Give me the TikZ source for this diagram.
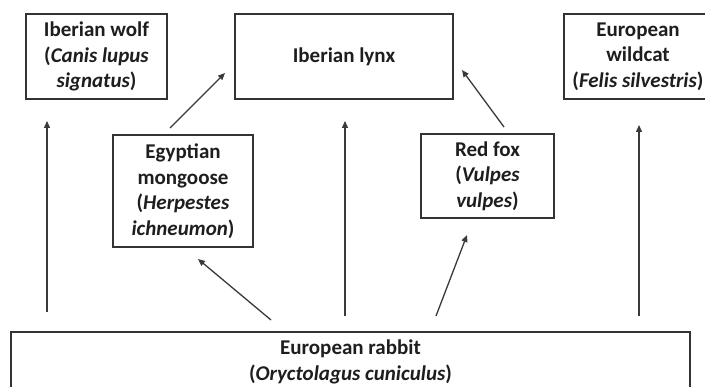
\documentclass[tikz,border=0pt]{standalone}
\usepackage{fontspec}
\setmainfont{Carlito}
\usetikzlibrary{arrows.meta}
\definecolor{boxgray}{HTML}{333333}
\definecolor{textgray}{HTML}{1E1E1E}
\definecolor{arrgray}{HTML}{3A3A3A}
\begin{document}
\begin{tikzpicture}[x=1pt,y=-1pt,
  box/.style={draw=boxgray,line width=1.4pt,inner sep=0pt,align=center,
    font=\bfseries\fontsize{21}{25.5}\selectfont,text=textgray},
  arr/.style={draw=arrgray,line width=1.3pt,-{Triangle[length=7pt,width=6pt]}}]
\useasboundingbox (0,0) rectangle (705,387);
\fill[white] (0,0) rectangle (705,387);
\node[box,minimum width=141pt,minimum height=85pt] (wolf) at (96.5,56.5)
  {Iberian wolf\\(\textit{Canis lupus}\\\textit{signatus})};
\node[box,minimum width=218pt,minimum height=85pt] (lynx) at (344,56.5)
  {Iberian lynx};
\node[box,minimum width=148pt,minimum height=85pt] (wildcat) at (638,56.5)
  {European\\wildcat\\(\textit{Felis silvestris})};
\node[box,minimum width=140pt,minimum height=112pt] (mongoose) at (183,191)
  {Egyptian\\mongoose\\(\textit{Herpestes}\\\textit{ichneumon})};
\node[box,minimum width=133pt,minimum height=84pt] (fox) at (487.5,176)
  {Red fox\\(\textit{Vulpes}\\\textit{vulpes})};
\node[box,minimum width=679pt,minimum height=60pt] (rabbit) at (350.5,362)
  {European rabbit\\(\textit{Oryctolagus cuniculus})};
% arrow end points
\coordinate (w0) at (47,312);   \coordinate (w1) at (47,121);
\coordinate (l0) at (345,316);  \coordinate (l1) at (345,121);
\coordinate (c0) at (639,316);  \coordinate (c1) at (639,125);
\coordinate (m0) at (271,320);  \coordinate (m1) at (198,259);
\coordinate (f0) at (436,316);  \coordinate (f1) at (467,235);
\coordinate (ml0) at (170,128); \coordinate (ml1) at (225,73);
\coordinate (fl0) at (504,127); \coordinate (fl1) at (462,70);
\draw[arr] (w0) -- (w1);
\draw[arr] (l0) -- (l1);
\draw[arr] (c0) -- (c1);
\draw[arr] (m0) -- (m1);
\draw[arr] (f0) -- (f1);
\draw[arr] (ml0) -- (ml1);
\draw[arr] (fl0) -- (fl1);
\end{tikzpicture}
\end{document}
